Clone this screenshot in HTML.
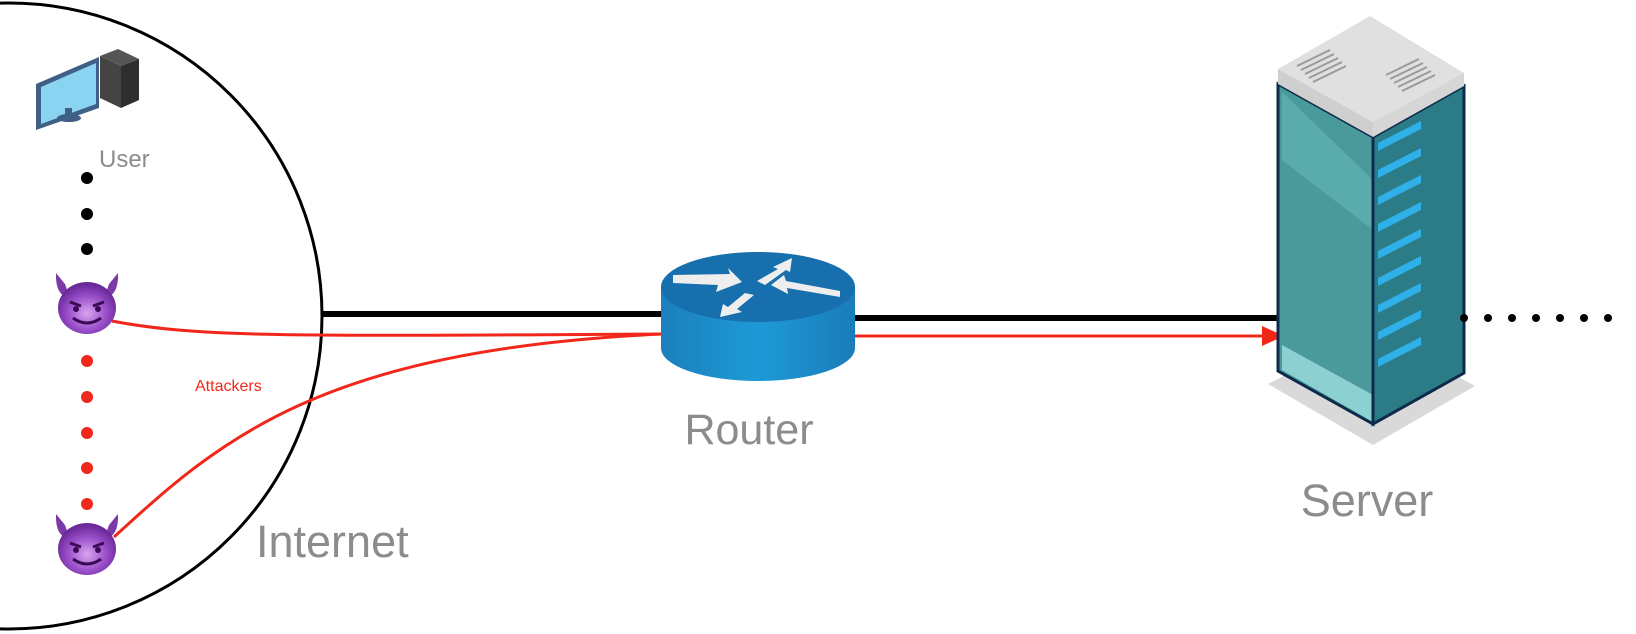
<!DOCTYPE html>
<html><head><meta charset="utf-8"><style>
html,body{margin:0;padding:0;background:#fff;width:1636px;height:634px;overflow:hidden}
svg{display:block}
text{font-family:"Liberation Sans",sans-serif}
</style></head><body>
<svg width="1636" height="634" viewBox="0 0 1636 634" xmlns="http://www.w3.org/2000/svg">
<defs>
<radialGradient id="dv" cx="50%" cy="60%" r="55%"><stop offset="0" stop-color="#d9a4f0"/><stop offset="0.6" stop-color="#9a4fc9"/><stop offset="1" stop-color="#6a2a9a"/></radialGradient>
<linearGradient id="rb" x1="0" x2="1"><stop offset="0" stop-color="#1b7fbc"/><stop offset="0.5" stop-color="#1d9ad6"/><stop offset="1" stop-color="#1a7db9"/></linearGradient>
<g id="devil">
<path d="M-31,-33 Q-32,-10 -17,-8 L-22,-22 Z" fill="#7b3aa8"/>
<path d="M31,-33 Q32,-10 17,-8 L22,-22 Z" fill="#7b3aa8"/>
<ellipse cx="0" cy="2" rx="29" ry="26" fill="url(#dv)"/>
<path d="M-17,-4 L-6,0 M17,-4 L6,0" stroke="#3a0a55" stroke-width="3" fill="none"/>
<circle cx="-11" cy="3" r="3" fill="#3a0a55"/><circle cx="11" cy="3" r="3" fill="#3a0a55"/>
<path d="M-14,12 Q0,22 14,12" stroke="#3a0a55" stroke-width="3" fill="none"/>
</g>
</defs>

<ellipse cx="9" cy="316" rx="313" ry="313" fill="none" stroke="#000" stroke-width="3"/>

<line x1="322" y1="314" x2="662" y2="314" stroke="#000" stroke-width="6"/>
<line x1="855" y1="318" x2="1282" y2="318" stroke="#000" stroke-width="6"/>

<path d="M112,321 C200,338 300,336 662,334" stroke="#f2271c" stroke-width="3" fill="none"/>
<path d="M114,537 C220,440 320,350 662,334" stroke="#f2271c" stroke-width="3" fill="none"/>
<line x1="855" y1="336" x2="1266" y2="336" stroke="#f2271c" stroke-width="3"/>
<polygon points="1262,326 1284,336 1262,346" fill="#f2271c"/>

<g>
<polygon points="100,56 118,49 139,59 121,66" fill="#555"/>
<polygon points="121,66 139,59 139,100 121,108" fill="#2e2e2e"/>
<polygon points="100,56 121,66 121,108 100,98" fill="#444"/>
<polygon points="36,84 99,57 99,108 36,130" fill="#3f5f85"/>
<polygon points="41,87 96,63 96,104 41,124" fill="#8ad4f2"/>
<ellipse cx="69" cy="118" rx="12" ry="4" fill="#3f5f85"/>
<rect x="65" y="108" width="7" height="9" fill="#3f5f85"/>
</g>
<text x="99" y="167" font-size="24" fill="#8c8c8c">User</text>

<g fill="#000"><circle cx="87" cy="178" r="6"/><circle cx="87" cy="214" r="6"/><circle cx="87" cy="249" r="6"/></g>
<g fill="#f2271c"><circle cx="87" cy="361" r="6"/><circle cx="87" cy="397" r="6"/><circle cx="87" cy="433" r="6"/><circle cx="87" cy="468" r="6"/><circle cx="87" cy="504" r="6"/></g>

<use href="#devil" x="87" y="306"/>
<use href="#devil" x="87" y="547"/>

<text x="195" y="391" font-size="16" fill="#f2271c">Attackers</text>
<text x="256" y="557" font-size="45" fill="#8c8c8c">Internet</text>

<path d="M661,287 L661,348 A97,33 0 0 0 855,348 L855,287 Z" fill="url(#rb)"/>
<ellipse cx="758" cy="287" rx="97" ry="35" fill="#1770ad"/>
<g fill="#eee">
<polygon points="673,275 730,274 728,268 742,282 716,292 718,285 673,283"/>
<polygon points="757,281 778,269 773,267 792,258 790,272 786,270 765,285"/>
<polygon points="840,297 787,288 788,294 771,285 784,275 786,281 840,291"/>
<polygon points="754,295 737,309 742,312 720,317 723,304 728,307 745,293"/>
</g>
<text x="749" y="444" font-size="43" fill="#8c8c8c" text-anchor="middle">Router</text>

<polygon points="1268,384 1373,445 1475,386 1373,330" fill="#d9d9d9"/>
<polygon points="1278,84 1373,137 1373,424 1278,371" fill="#4a9a9c" stroke="#0d2a4a" stroke-width="3"/>
<polygon points="1282,345 1373,395 1373,422 1282,370" fill="#8dd0d2"/>
<polygon points="1282,92 1373,180 1373,230 1282,160" fill="#69bcbc" opacity="0.5"/>
<polygon points="1373,137 1464,86 1464,373 1373,424" fill="#2b7c86" stroke="#0d2a4a" stroke-width="3"/>
<g fill="#30b0e8">
<polygon points="1378,143 1421,121 1421,129 1378,151"/>
<polygon points="1378,170 1421,148 1421,156 1378,178"/>
<polygon points="1378,197 1421,175 1421,183 1378,205"/>
<polygon points="1378,224 1421,202 1421,210 1378,232"/>
<polygon points="1378,251 1421,229 1421,237 1378,259"/>
<polygon points="1378,278 1421,256 1421,264 1378,286"/>
<polygon points="1378,305 1421,283 1421,291 1378,313"/>
<polygon points="1378,332 1421,310 1421,318 1378,340"/>
<polygon points="1378,359 1421,337 1421,345 1378,367"/>
</g>
<polygon points="1278,69 1370,16 1464,73 1373,122" fill="#e0e0e0"/>
<polygon points="1278,69 1373,122 1373,137 1278,84" fill="#cfcfcf"/>
<polygon points="1373,122 1464,73 1464,86 1373,137" fill="#d6d6d6"/>
<g stroke="#9a9a9a" stroke-width="2">
<line x1="1297" y1="66" x2="1330" y2="50"/><line x1="1301" y1="70" x2="1334" y2="54"/><line x1="1305" y1="74" x2="1338" y2="58"/><line x1="1309" y1="78" x2="1342" y2="62"/><line x1="1313" y1="82" x2="1346" y2="66"/>
<line x1="1386" y1="75" x2="1419" y2="59"/><line x1="1390" y1="79" x2="1423" y2="63"/><line x1="1394" y1="83" x2="1427" y2="67"/><line x1="1398" y1="87" x2="1431" y2="71"/><line x1="1402" y1="91" x2="1435" y2="75"/>
</g>
<text x="1367" y="516" font-size="45" fill="#8c8c8c" text-anchor="middle">Server</text>

<g fill="#000">
<circle cx="1464" cy="318" r="4"/><circle cx="1488" cy="318" r="4"/><circle cx="1512" cy="318" r="4"/><circle cx="1536" cy="318" r="4"/><circle cx="1560" cy="318" r="4"/><circle cx="1584" cy="318" r="4"/><circle cx="1608" cy="318" r="4"/>
</g>
</svg>
</body></html>
